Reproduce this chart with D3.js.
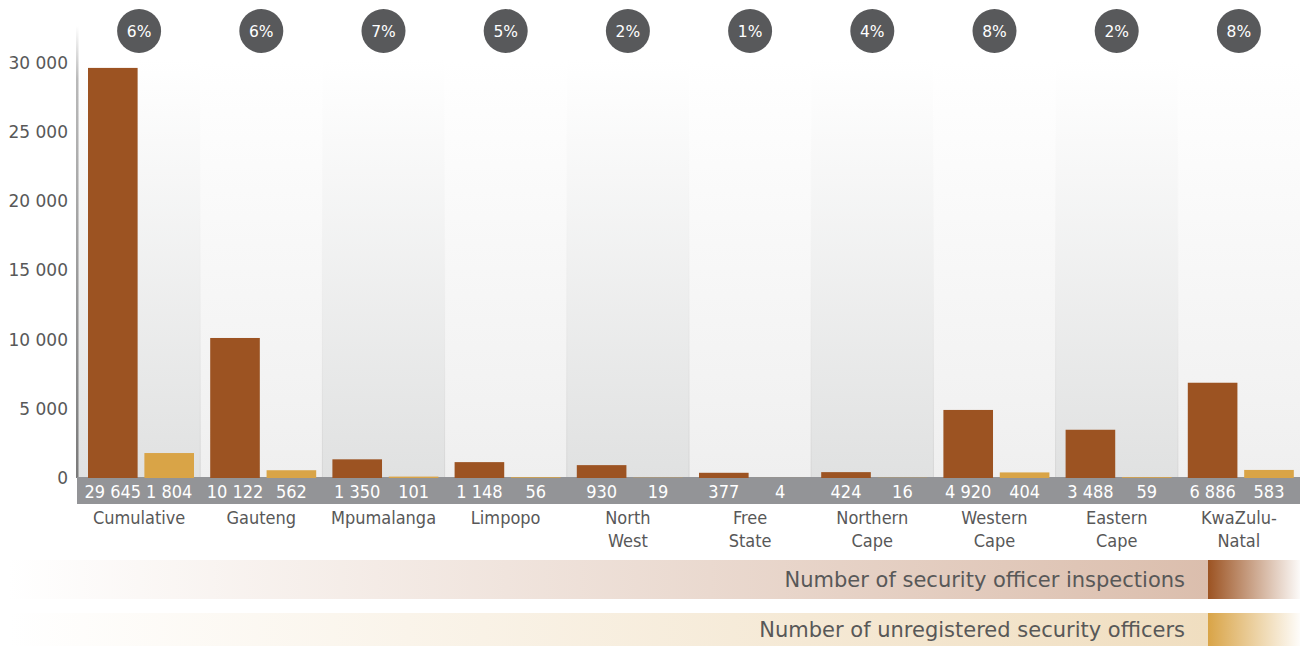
<!DOCTYPE html>
<html>
<head>
<meta charset="utf-8">
<script src="https://cdn.jsdelivr.net/npm/d3@7"></script>
<style>
  html, body { margin: 0; padding: 0; background: #fff; }
  svg { display: block; font-family: "DejaVu Sans", sans-serif; }
</style>
</head>
<body>
<svg id="chart" width="1300" height="646"></svg>
<script>
// Provinces (plus the national total) and the two measured series
const categories = ["Cumulative", "Gauteng", "Mpumalanga", "Limpopo", "North West",
  "Free State", "Northern Cape", "Western Cape", "Eastern Cape", "KwaZulu-Natal"];
const categoryLines = [["Cumulative"], ["Gauteng"], ["Mpumalanga"], ["Limpopo"], ["North", "West"],
  ["Free", "State"], ["Northern", "Cape"], ["Western", "Cape"], ["Eastern", "Cape"], ["KwaZulu-", "Natal"]];
const inspections = [29645, 10122, 1350, 1148, 930, 377, 424, 4920, 3488, 6886];
const unregistered = [1804, 562, 101, 56, 19, 4, 16, 404, 59, 583];
const percentages = ["6%", "6%", "7%", "5%", "2%", "1%", "4%", "8%", "2%", "8%"];
const yTicks = [0, 5000, 10000, 15000, 20000, 25000, 30000];
const seriesNames = ["Number of security officer inspections", "Number of unregistered security officers"];
const seriesColors = ["#9c5322", "#d9a447"];
const legendTints = ["#dbbead", "#f0dec0"];

const svg = d3.select("#chart");
const defs = svg.append("defs");

const fmt = d3.formatLocale({ decimal: ",", thousands: " ", grouping: [3], currency: ["", ""] }).format(",d");

const plotLeft = 78, plotRight = 1300, baseY = 478, topY = 63;
const textColor = "#585858";
const condensed = "'DejaVu Sans Condensed', 'DejaVu Sans', sans-serif";

const x0 = d3.scaleBand().domain(categories).range([plotLeft, plotRight]).paddingInner(0);
const x1 = d3.scaleBand().domain([0, 1]).range([10, 116]).paddingInner(0.12);
const y = d3.scaleLinear().domain([0, 30000]).range([baseY, topY]);

// Column backgrounds: soft vertical gradients, alternating in depth
const bgDark = defs.append("linearGradient").attr("id", "bgDark").attr("x1", 0).attr("y1", 0).attr("x2", 0).attr("y2", 1);
bgDark.append("stop").attr("offset", 0).attr("stop-color", "#ffffff");
bgDark.append("stop").attr("offset", 1).attr("stop-color", "#e0e1e1");
const bgLight = defs.append("linearGradient").attr("id", "bgLight").attr("x1", 0).attr("y1", 0).attr("x2", 0).attr("y2", 1);
bgLight.append("stop").attr("offset", 0).attr("stop-color", "#ffffff");
bgLight.append("stop").attr("offset", 1).attr("stop-color", "#efefef");

const colTop = 60;
svg.append("g").selectAll("rect").data(categories).join("rect")
  .attr("x", d => x0(d))
  .attr("y", colTop)
  .attr("width", x0.bandwidth())
  .attr("height", baseY - colTop)
  .attr("fill", (d, i) => i % 2 === 0 ? "url(#bgDark)" : "url(#bgLight)");

// faint separators between columns
const sepGrad = defs.append("linearGradient").attr("id", "sepGrad").attr("x1", 0).attr("y1", 0).attr("x2", 0).attr("y2", 1);
sepGrad.append("stop").attr("offset", 0).attr("stop-color", "#ffffff").attr("stop-opacity", 0);
sepGrad.append("stop").attr("offset", 1).attr("stop-color", "#d4d4d4");
svg.append("g").selectAll("rect").data(categories.slice(1)).join("rect")
  .attr("x", d => x0(d) - 0.5)
  .attr("y", colTop)
  .attr("width", 1)
  .attr("height", baseY - colTop)
  .attr("fill", "url(#sepGrad)");

// Y axis line fading out at the top
const axGrad = defs.append("linearGradient").attr("id", "axGrad").attr("x1", 0).attr("y1", 0).attr("x2", 0).attr("y2", 1);
axGrad.append("stop").attr("offset", 0).attr("stop-color", "#8a8a8a").attr("stop-opacity", 0);
axGrad.append("stop").attr("offset", 0.12).attr("stop-color", "#8a8a8a").attr("stop-opacity", 0.6);
axGrad.append("stop").attr("offset", 1).attr("stop-color", "#7a7a7a");
svg.append("rect").attr("x", plotLeft - 2).attr("y", 26).attr("width", 2.5).attr("height", baseY - 26)
  .attr("fill", "url(#axGrad)");

// Y axis tick labels
const yAxis = d3.axisLeft(y).tickValues(yTicks).tickFormat(fmt).tickSize(0).tickPadding(0);
const yg = svg.append("g").attr("transform", `translate(${plotLeft - 10},0)`).call(yAxis);
yg.select(".domain").remove();
yg.selectAll("text").attr("fill", textColor).attr("font-size", 17)
  .attr("font-family", "'DejaVu Sans', sans-serif");

// Value band under the bars
svg.append("rect").attr("x", plotLeft - 1).attr("y", baseY - 1).attr("width", plotRight - plotLeft + 1).attr("height", 27)
  .attr("fill", "#939497");

// Bars
const rows = categories.map((c, i) => ({ c, vals: [inspections[i], unregistered[i]] }));
const groups = svg.append("g").selectAll("g").data(rows).join("g")
  .attr("transform", d => `translate(${x0(d.c)},0)`);
groups.selectAll("rect").data(d => d.vals).join("rect")
  .attr("x", (v, j) => x1(j))
  .attr("y", v => y(v))
  .attr("width", x1.bandwidth())
  .attr("height", v => baseY - y(v))
  .attr("fill", (v, j) => seriesColors[j]);

groups.selectAll("text.val").data(d => d.vals).join("text")
  .attr("class", "val")
  .attr("x", (v, j) => x1(j) + x1.bandwidth() / 2)
  .attr("y", baseY + 20)
  .attr("text-anchor", "middle")
  .attr("fill", "#ffffff")
  .attr("font-family", condensed)
  .attr("font-size", 18)
  .text(v => fmt(v));

// Category names
groups.each(function(d, i) {
  const g = d3.select(this);
  categoryLines[i].forEach((line, k) => {
    g.append("text")
      .attr("x", x0.bandwidth() / 2)
      .attr("y", 524 + k * 23)
      .attr("text-anchor", "middle")
      .attr("fill", textColor)
      .attr("font-family", condensed)
      .attr("font-size", 18)
      .text(line);
  });
});

// Percentage bubbles
groups.append("circle")
  .attr("cx", x0.bandwidth() / 2)
  .attr("cy", 31)
  .attr("r", 22)
  .attr("fill", "#58595b");
groups.append("text")
  .attr("x", x0.bandwidth() / 2)
  .attr("y", 36.5)
  .attr("text-anchor", "middle")
  .attr("fill", "#ffffff")
  .attr("font-size", 15.5)
  .text((d, i) => percentages[i]);

// Legend strips
const legendY = [560, 613];
const legendH = [39, 33];
seriesNames.forEach((name, i) => {
  const band = defs.append("linearGradient").attr("id", "lgBand" + i).attr("x1", 0).attr("x2", 1).attr("y1", 0).attr("y2", 0);
  band.append("stop").attr("offset", 0).attr("stop-color", legendTints[i]).attr("stop-opacity", 0);
  band.append("stop").attr("offset", 1).attr("stop-color", legendTints[i]).attr("stop-opacity", 1);
  const sw = defs.append("linearGradient").attr("id", "lgSw" + i).attr("x1", 0).attr("x2", 1).attr("y1", 0).attr("y2", 0);
  sw.append("stop").attr("offset", 0).attr("stop-color", seriesColors[i]);
  sw.append("stop").attr("offset", 1).attr("stop-color", seriesColors[i]).attr("stop-opacity", 0.03);

  svg.append("rect").attr("x", 8).attr("y", legendY[i]).attr("width", 1208 - 8).attr("height", legendH[i])
    .attr("fill", `url(#lgBand${i})`);
  svg.append("rect").attr("x", 1208).attr("y", legendY[i]).attr("width", 92).attr("height", legendH[i])
    .attr("fill", `url(#lgSw${i})`);
  svg.append("text")
    .attr("x", 1185)
    .attr("y", legendY[i] + legendH[i] / 2 + 7)
    .attr("text-anchor", "end")
    .attr("fill", textColor)
    .attr("font-size", 21)
    .text(name);
});
</script>
</body>
</html>
